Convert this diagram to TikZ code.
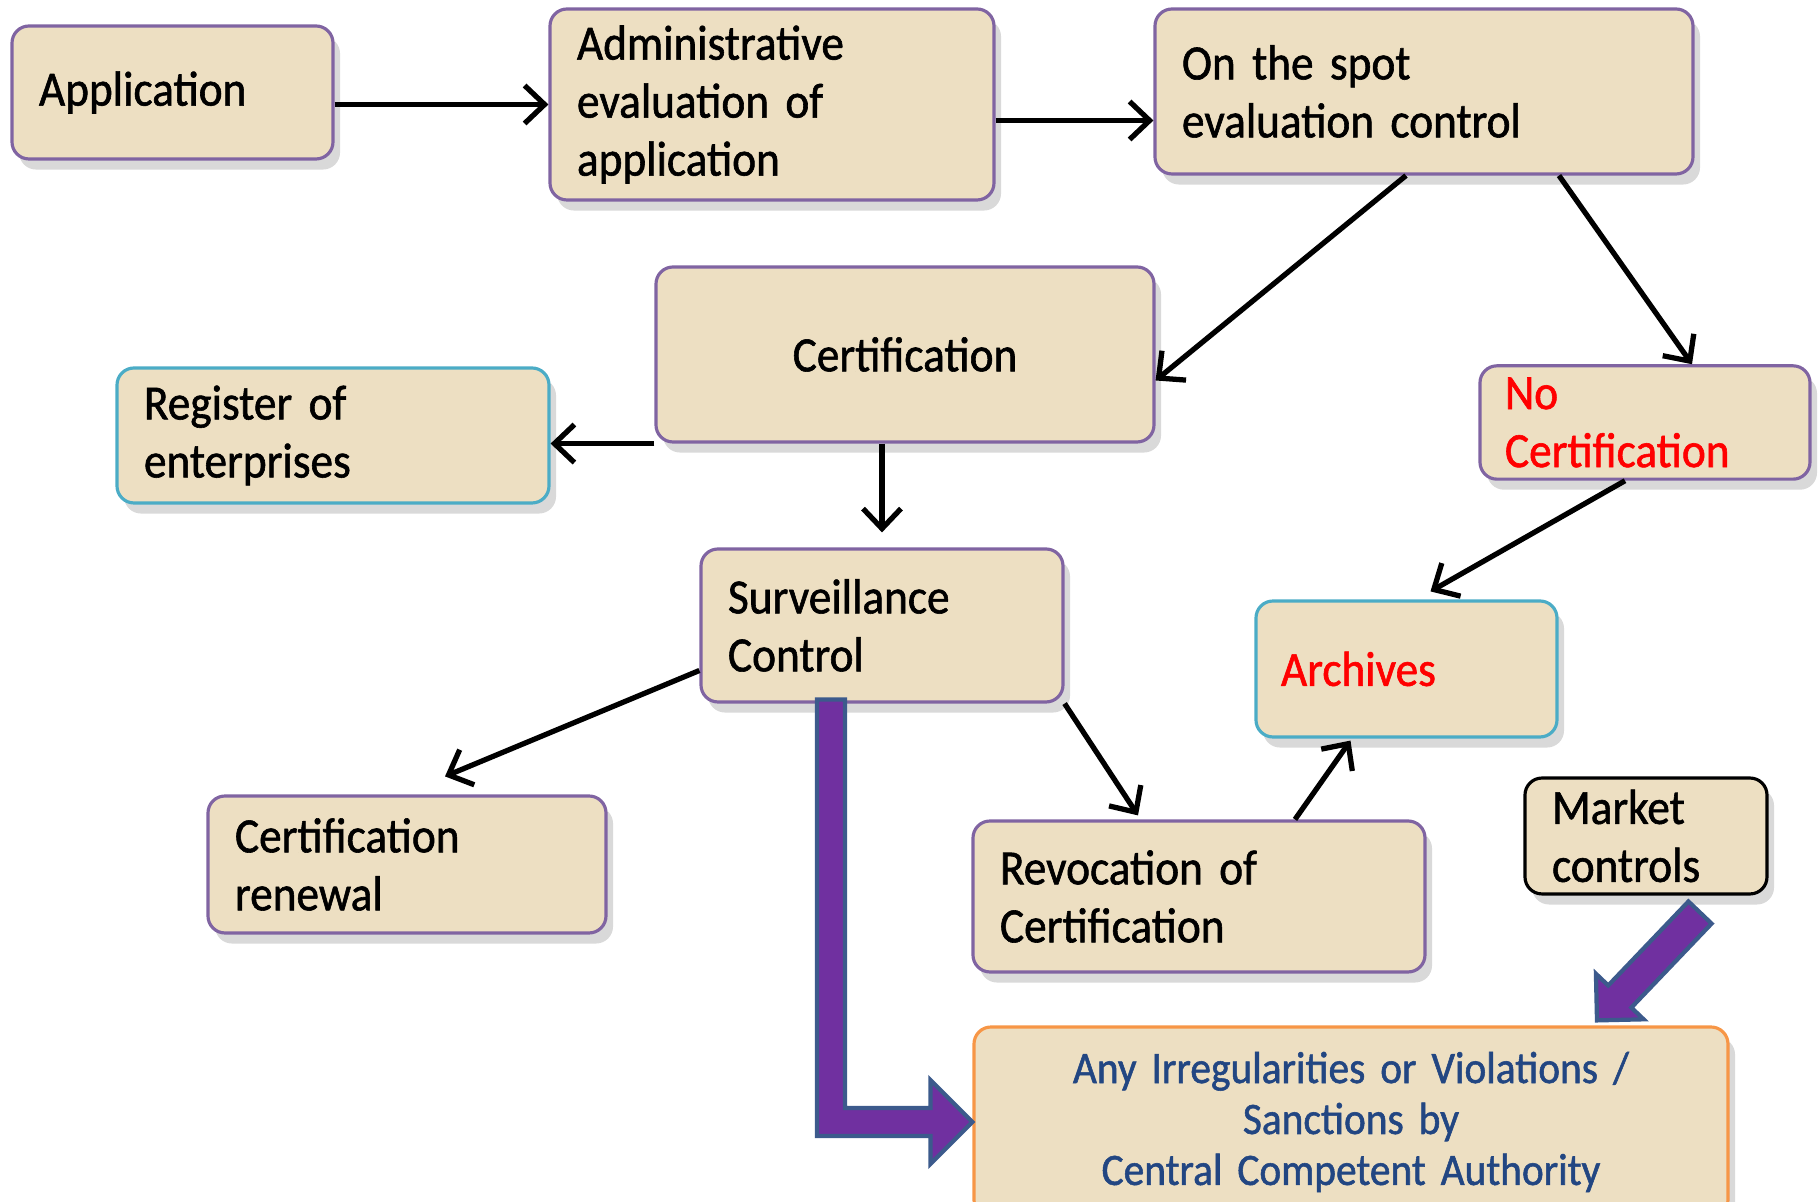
\documentclass[tikz,border=0pt]{standalone}
\usepackage{fontspec}
\setmainfont[FakeStretch=0.92, FakeBold=1.2]{Carlito}
\usetikzlibrary{arrows.meta}
\usetikzlibrary{calc}
\usetikzlibrary{shadows}
\definecolor{parch}{RGB}{237,223,194}
\definecolor{boxpurple}{RGB}{128,100,162}
\definecolor{boxteal}{RGB}{75,172,198}
\definecolor{boxorange}{RGB}{247,150,70}
\definecolor{violblue}{RGB}{34,70,130}
\definecolor{fatpurple}{RGB}{112,48,160}
\definecolor{fatblue}{RGB}{60,90,140}
\newcommand{\flowfont}[2]{\fontsize{#1}{#2}\selectfont\spaceskip=0.19em plus 0.05em\relax}
\tikzset{
  box/.style={rounded corners=0.17cm, draw=boxpurple, fill=parch, line width=0.9pt,
    inner xsep=0.27cm, align=left, font=\flowfont{14}{16.5},
    drop shadow={shadow xshift=2pt, shadow yshift=-3pt, opacity=0.3}},
  flow/.style={-{Straight Barb[length=2mm,width=3.8mm]}, line width=1.5pt},
  fat/.style={fill=fatpurple, draw=fatblue, line width=1.2pt, line join=miter}
}

\begin{document}
\begin{tikzpicture}
            \useasboundingbox (0,0) rectangle (18.2,-12.02);
            % boxes
            \node[box, text width=2.67cm, minimum height=1.33cm] (app) at (1.725,-0.925) {Application};
            \node[box, text width=3.90cm, minimum height=1.91cm] (admin) at (7.72,-1.045) {Administrative\\evaluation of\\application};
            \node[box, text width=4.84cm, minimum height=1.65cm] (spot) at (14.24,-0.915) {On the spot\\evaluation control};
            \node[box, text width=4.44cm, minimum height=1.75cm, align=center] (cert) at (9.05,-3.545) {Certification};
            \node[box, draw=boxteal, text width=3.78cm, minimum height=1.35cm] (reg) at (3.33,-4.355) {Register of\\enterprises};
            \node[box, text width=2.80cm, minimum height=1.09cm, inner xsep=0.25cm, text=red] (nocert) at (16.45,-4.225) {No\\Certification};
            \node[box, text width=3.08cm, minimum height=1.53cm] (surv) at (8.82,-6.255) {Surveillance\\Control};
            \node[box, draw=boxteal, text width=2.51cm, minimum height=1.36cm, inner xsep=0.25cm, text=red] (arch) at (14.065,-6.69) {Archives};
            \node[box, text width=3.44cm, minimum height=1.37cm] (renew) at (4.07,-8.645) {Certification\\renewal};
            \node[box, text width=3.98cm, minimum height=1.51cm] (revoc) at (11.99,-8.965) {Revocation of\\Certification};
            \node[box, draw=black, text width=1.88cm, minimum height=1.06cm] (market) at (16.46,-8.36) {Market\\controls};
            \node[box, draw=boxorange, text width=7.0cm, minimum height=1.9cm, align=center, text=violblue,
              font=\flowfont{12.8}{14.5}] (viol) at (13.51,-11.22) {Any Irregularities or Violations /\\Sanctions by\\Central Competent Authority};
            % thin arrows
            \draw[flow] (app.east |- admin.west) -- (admin.west);
            \draw[flow] ([yshift=-1.6mm]admin.east) -- ([yshift=-1.6mm]admin.east -| spot.west);
            \draw[flow] ([xshift=-1.8mm]spot.south) -- ([yshift=-2.6mm]cert.east);
            \draw[flow] ([xshift=1.35cm]spot.south) -- ([xshift=4.7mm]nocert.north);
            \draw[flow] (cert.south west) -- (cert.south west -| reg.east);
            \draw[flow] (surv.north |- cert.south) -- ([yshift=1.5mm]surv.north);
            \draw[flow] ([xshift=-2mm]nocert.south) -- ([shift={(2.4mm,0.8mm)}]arch.north);
            \draw[flow] ([yshift=-4.5mm]surv.west) -- ([shift={(3.8mm,1.8mm)}]renew.north);
            \draw[flow] (surv.south east) -- ([shift={(-6.1mm,0.4mm)}]revoc.north);
            \draw[flow] ([xshift=9.6mm]revoc.north) -- ([shift={(-5.6mm,-0.2mm)}]arch.south);
            % fat arrows
            \coordinate (bend) at ($(surv.south)+(-0.51,0.04)$);
            \filldraw[fat] ($(bend)+(-0.14,0)$) -- ($(bend)+(0.14,0)$) -- ($(bend |- viol.west)+(0.14,0.14)$)
              -- ($(viol.west)+(-0.42,0.14)$) -- ($(viol.west)+(-0.42,0.42)$) -- (viol.west)
              -- ($(viol.west)+(-0.42,-0.42)$) -- ($(viol.west)+(-0.42,-0.14)$)
              -- ($(bend |- viol.west)+(-0.14,-0.14)$) -- cycle;
            \coordinate (mtail) at ($(market.south)+(0.54,-0.17)$);
            \coordinate (mtip) at ($(viol.north)+(2.46,0.05)$);
            \coordinate (mhead) at ($(mtip)!0.33cm!(mtail)$);
            \filldraw[fat] ($(mtail)!0.16cm!90:(mtip)$) -- ($(mhead)!0.16cm!90:(mtip)$) -- ($(mhead)!0.33cm!90:(mtip)$)
              -- (mtip) -- ($(mhead)!0.33cm!-90:(mtip)$) -- ($(mhead)!0.16cm!-90:(mtip)$)
              -- ($(mtail)!0.16cm!-90:(mtip)$) -- cycle;
        \end{tikzpicture}
\end{document}
